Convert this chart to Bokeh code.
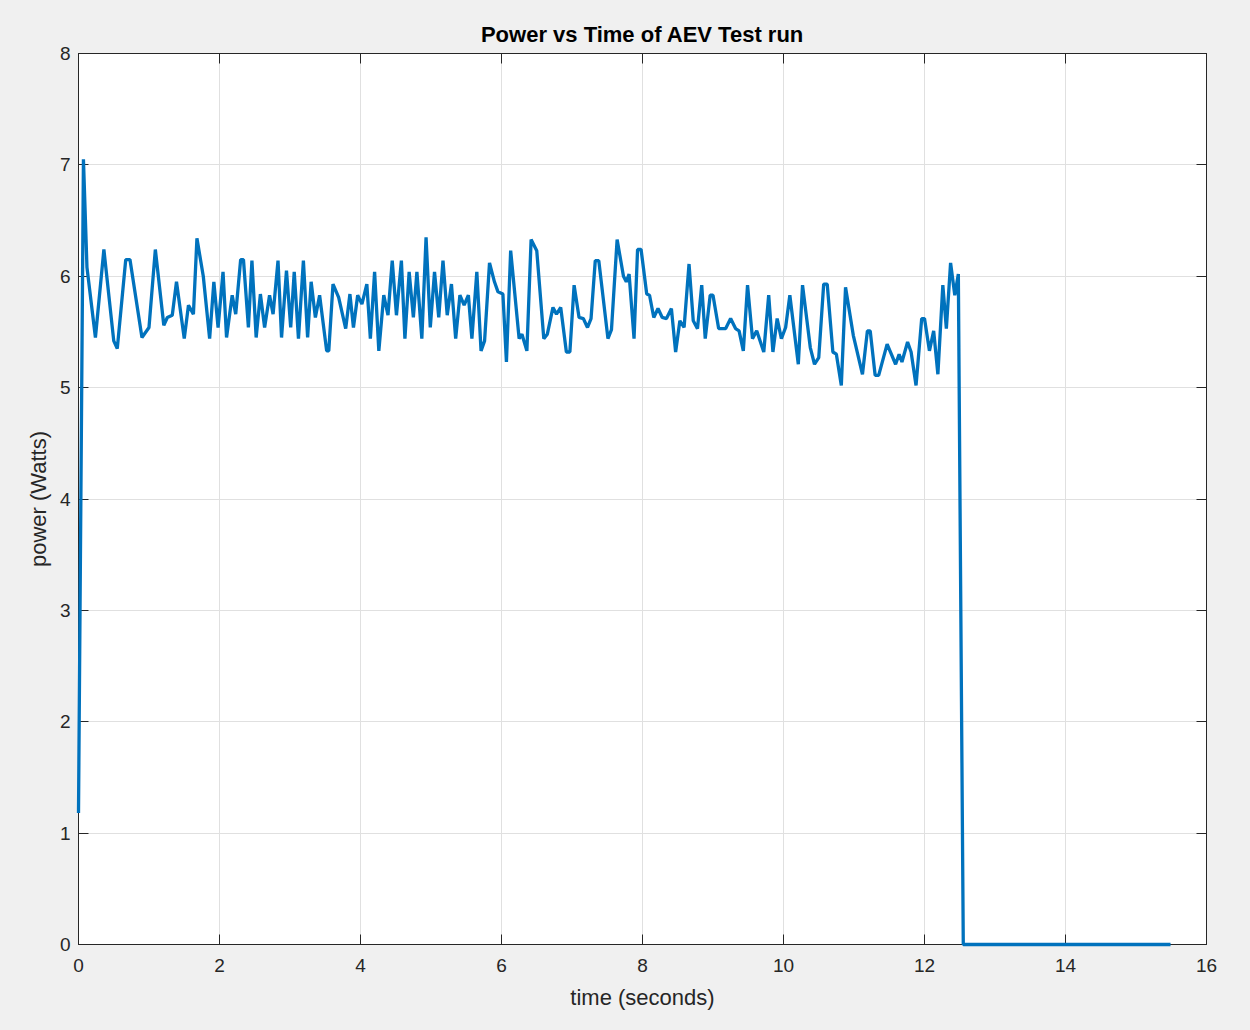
from bokeh.plotting import figure
from bokeh.models import LinearAxis, Range1d, FixedTicker
from bokeh.embed import file_html
from bokeh.resources import INLINE

# ---- data ----
time_s = [0.00, 0.07, 0.12, 0.24, 0.36, 0.50, 0.55, 0.67, 0.73, 0.90,
          1.00, 1.09, 1.21, 1.26, 1.33, 1.39, 1.50, 1.56, 1.63, 1.68,
          1.77, 1.86, 1.92, 1.98, 2.05, 2.10, 2.18, 2.23, 2.30, 2.34,
          2.41, 2.46, 2.52, 2.58, 2.64, 2.71, 2.76, 2.83, 2.88, 2.95,
          3.01, 3.06, 3.12, 3.19, 3.25, 3.30, 3.36, 3.42, 3.52, 3.55,
          3.61, 3.69, 3.79, 3.85, 3.90, 3.96, 4.02, 4.09, 4.14, 4.20,
          4.26, 4.33, 4.39, 4.45, 4.51, 4.58, 4.63, 4.69, 4.75, 4.80,
          4.87, 4.93, 4.99, 5.05, 5.11, 5.17, 5.23, 5.29, 5.35, 5.41,
          5.47, 5.53, 5.58, 5.65, 5.71, 5.76, 5.83, 5.90, 5.95, 6.02,
          6.07, 6.13, 6.25, 6.29, 6.36, 6.42, 6.50, 6.60, 6.65, 6.73,
          6.78, 6.84, 6.92, 6.97, 7.03, 7.10, 7.16, 7.22, 7.27, 7.33,
          7.38, 7.51, 7.56, 7.64, 7.73, 7.77, 7.81, 7.88, 7.93, 7.98,
          8.06, 8.10, 8.16, 8.22, 8.28, 8.34, 8.41, 8.47, 8.53, 8.59,
          8.66, 8.72, 8.78, 8.84, 8.89, 8.96, 9.00, 9.08, 9.18, 9.25,
          9.32, 9.37, 9.43, 9.49, 9.56, 9.62, 9.72, 9.79, 9.85, 9.91,
          9.97, 10.03, 10.09, 10.21, 10.27, 10.38, 10.44, 10.50, 10.57, 10.62,
          10.70, 10.75, 10.82, 10.88, 10.99, 11.12, 11.19, 11.23, 11.30, 11.35,
          11.47, 11.59, 11.64, 11.68, 11.76, 11.81, 11.88, 11.96, 12.00, 12.07,
          12.13, 12.19, 12.26, 12.31, 12.37, 12.43, 12.48, 12.55, 15.49]

power_w = [1.18, 7.05, 6.08, 5.45, 6.24, 5.42, 5.35, 6.15, 6.15, 5.45,
           5.54, 6.24, 5.56, 5.63, 5.65, 5.95, 5.44, 5.74, 5.66, 6.34,
           6.00, 5.44, 5.95, 5.54, 6.04, 5.45, 5.83, 5.66, 6.15, 6.15,
           5.54, 6.14, 5.45, 5.84, 5.54, 5.83, 5.66, 6.14, 5.45, 6.05,
           5.54, 6.04, 5.44, 6.14, 5.45, 5.95, 5.63, 5.83, 5.33, 5.33,
           5.93, 5.81, 5.53, 5.84, 5.54, 5.83, 5.75, 5.93, 5.44, 6.04,
           5.33, 5.83, 5.65, 6.14, 5.65, 6.14, 5.44, 6.04, 5.63, 6.04,
           5.44, 6.35, 5.54, 6.04, 5.63, 6.14, 5.65, 5.93, 5.44, 5.83,
           5.74, 5.83, 5.44, 6.04, 5.33, 5.42, 6.12, 5.95, 5.86, 5.84,
           5.23, 6.23, 5.44, 5.48, 5.33, 6.33, 6.23, 5.44, 5.48, 5.72,
           5.66, 5.72, 5.32, 5.32, 5.92, 5.63, 5.62, 5.54, 5.62, 6.14,
           6.14, 5.44, 5.52, 6.33, 6.00, 5.95, 6.02, 5.44, 6.24, 6.24,
           5.84, 5.83, 5.63, 5.71, 5.63, 5.62, 5.71, 5.32, 5.60, 5.54,
           6.11, 5.60, 5.53, 5.92, 5.44, 5.83, 5.83, 5.53, 5.53, 5.62,
           5.53, 5.51, 5.33, 5.92, 5.44, 5.51, 5.32, 5.83, 5.32, 5.62,
           5.44, 5.54, 5.83, 5.21, 5.92, 5.36, 5.21, 5.27, 5.93, 5.93,
           5.32, 5.30, 5.02, 5.90, 5.47, 5.12, 5.51, 5.51, 5.11, 5.11,
           5.39, 5.21, 5.30, 5.23, 5.41, 5.32, 5.02, 5.62, 5.62, 5.33,
           5.51, 5.12, 5.92, 5.53, 6.12, 5.83, 6.02, 0.00, 0.00]

x_ticks = [0, 2, 4, 6, 8, 10, 12, 14, 16]
y_ticks = [0, 1, 2, 3, 4, 5, 6, 7, 8]

FONT = "Liberation Sans"
AX = "#262626"

p = figure(output_backend="svg", toolbar_location=None,
           frame_width=1128, frame_height=891,
           min_border_left=78, min_border_right=44,
           min_border_top=53, min_border_bottom=86,
           x_range=Range1d(0, 16), y_range=Range1d(0, 8),
           title="Power vs Time of AEV Test run")

r = p.line(time_s, power_w, line_color="#0072BD", line_width=3.3)
r.level = "overlay"

p.border_fill_color = "#f0f0f0"
p.background_fill_color = "white"
p.outline_line_color = AX
p.outline_line_width = 1

p.title.align = "center"
p.title.text_font = FONT
p.title.text_font_size = "22px"
p.title.text_font_style = "bold"
p.title.text_color = "#000000"
p.title.offset = 0
p.title.standoff = 13

for g in (p.xgrid, p.ygrid):
    g.grid_line_color = "#e0e0e0"
    g.grid_line_width = 1
p.xgrid.ticker = FixedTicker(ticks=x_ticks)
p.ygrid.ticker = FixedTicker(ticks=y_ticks)

def style(ax, show_labels):
    ax.axis_line_color = AX
    ax.major_tick_line_color = AX
    ax.major_tick_in = 10
    ax.major_tick_out = 0
    ax.minor_tick_line_color = None
    ax.major_label_text_font = FONT
    ax.major_label_text_font_size = "19px"
    ax.major_label_text_color = AX
    ax.axis_label_text_font = FONT
    ax.axis_label_text_font_size = "22px"
    ax.axis_label_text_font_style = "normal"
    ax.axis_label_text_color = AX
    if not show_labels:
        ax.major_label_text_font_size = "0px"
        ax.major_label_text_alpha = 0

xa = p.xaxis[0]
xa.ticker = FixedTicker(ticks=x_ticks)
xa.axis_label = "time (seconds)"
style(xa, True)
xa.major_label_standoff = 14
xa.axis_label_standoff = 10

ya = p.yaxis[0]
ya.ticker = FixedTicker(ticks=y_ticks)
ya.axis_label = "power (Watts)"
style(ya, True)
ya.major_label_standoff = 8
ya.axis_label_standoff = 6

top = LinearAxis(ticker=FixedTicker(ticks=x_ticks))
style(top, False)
p.add_layout(top, "above")
right = LinearAxis(ticker=FixedTicker(ticks=y_ticks))
style(right, False)
p.add_layout(right, "right")

template = """
{% block postamble %}<style>html, body { background: #f0f0f0; }</style>{% endblock %}
"""

html = file_html(p, INLINE, template=template)
open("out.html", "w").write(html)
